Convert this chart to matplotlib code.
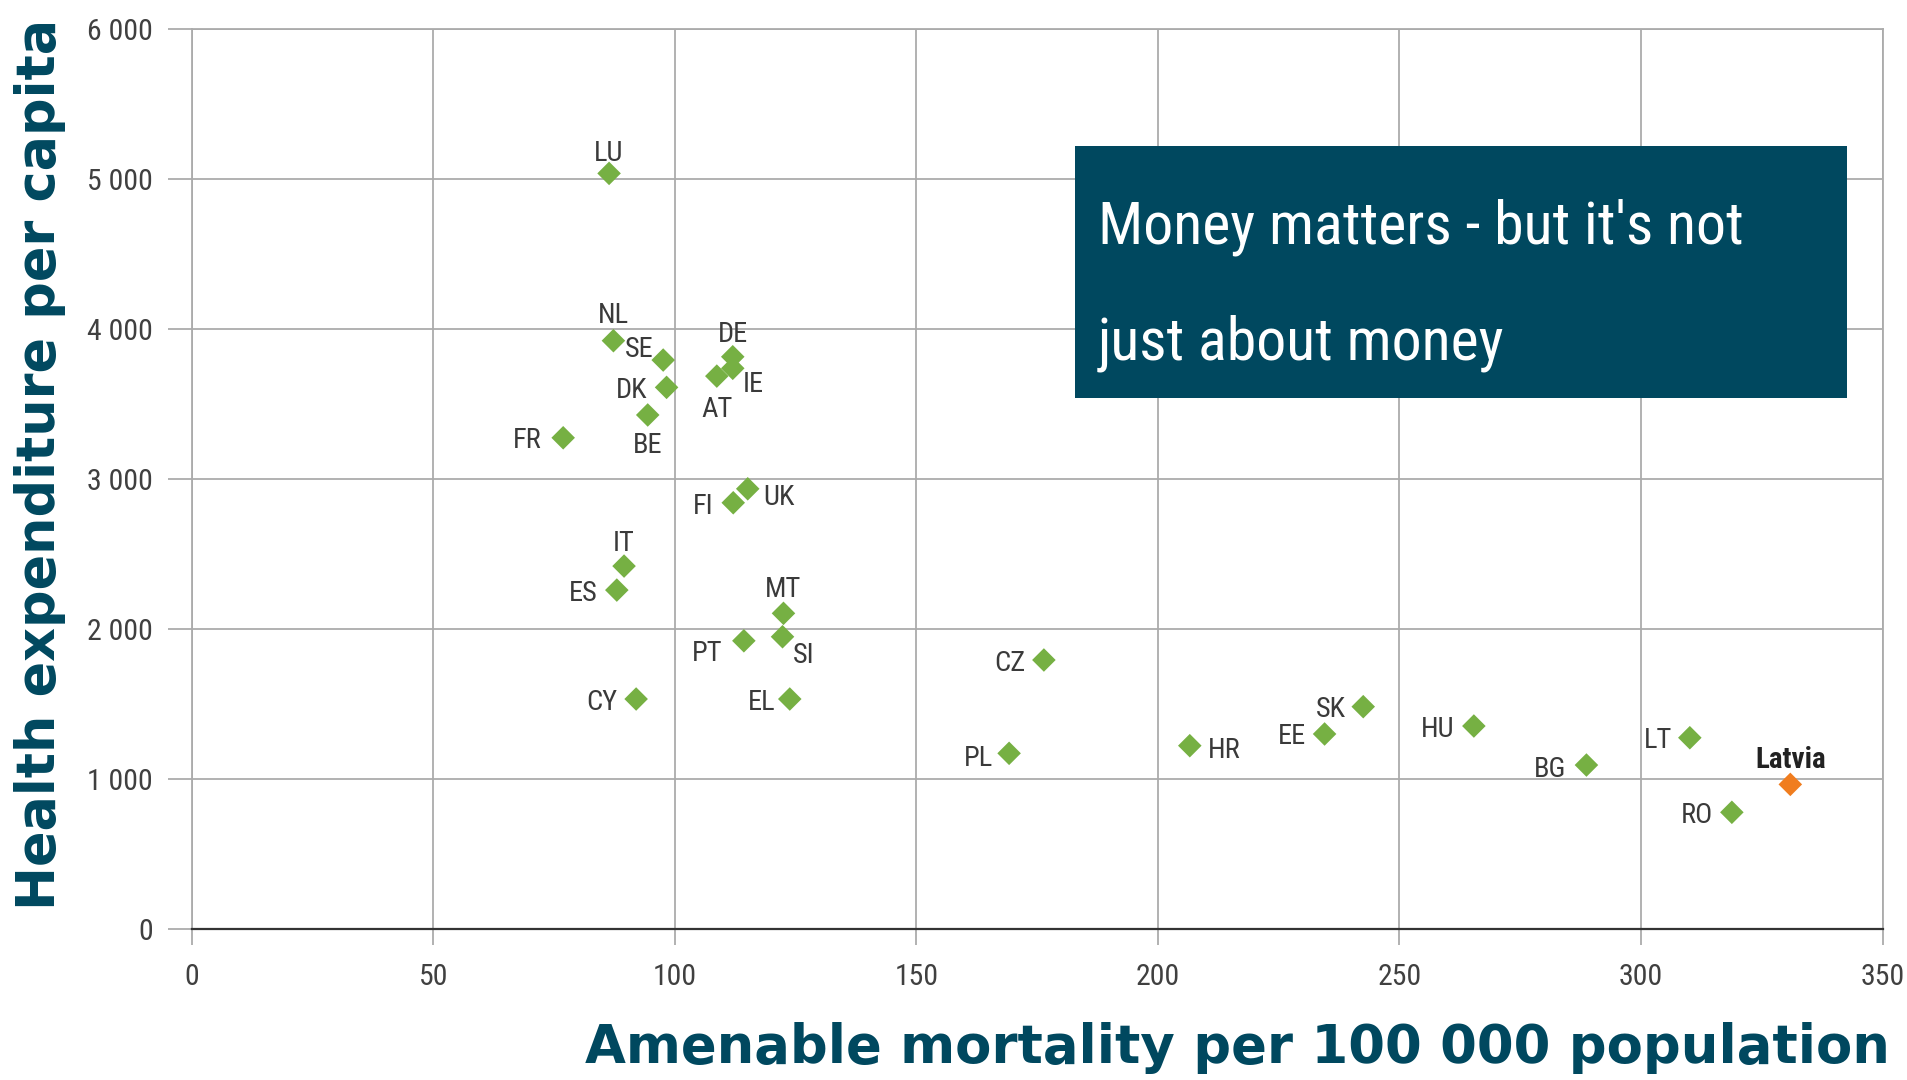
import matplotlib
matplotlib.use('Agg')
import matplotlib.pyplot as plt
from matplotlib.patches import Rectangle

# data
countries = ['LU', 'NL', 'SE', 'DE', 'IE', 'AT', 'DK', 'BE', 'FR', 'UK', 'FI', 'IT', 'ES', 'MT',
             'SI', 'PT', 'CY', 'EL', 'CZ', 'PL', 'HR', 'SK', 'EE', 'HU', 'BG', 'LT', 'RO', 'Latvia']
mortality = [86.4, 87.3, 97.6, 112.0, 112.0, 108.7, 98.3, 94.4, 76.9, 115.1, 112.1, 89.5, 88.0, 122.5,
             122.3, 114.3, 92.0, 123.8, 176.4, 169.2, 206.6, 242.5, 234.5, 265.4, 288.7, 310.1, 318.8, 330.9]
expenditure = [5038, 3923, 3794, 3816, 3739, 3687, 3612, 3428, 3276, 2936, 2843, 2421, 2261, 2106,
               1950, 1923, 1535, 1535, 1795, 1173, 1224, 1484, 1302, 1355, 1095, 1277, 780, 966]
highlight = 'Latvia'

x_ticks = [0, 50, 100, 150, 200, 250, 300, 350]
y_ticks = [0, 1000, 2000, 3000, 4000, 5000, 6000]
y_tick_labels = ['0', '1 000', '2 000', '3 000', '4 000', '5 000', '6 000']

x_title = 'Amenable mortality per 100 000 population'
y_title = 'Health expenditure per capita'
box_lines = ["Money matters - but it's not", 'just about money']

# label placement next to each marker (pixels, image y down)
label_ha = ['center', 'center', 'right', 'center', 'left', 'center', 'right', 'center', 'right', 'left',
            'right', 'center', 'right', 'center', 'left', 'right', 'right', 'right', 'right', 'right',
            'left', 'right', 'right', 'right', 'right', 'right', 'right', 'center']
label_dx = [0, 0, -10, 0, 10, 0, -19, 0, -22, 16, -20, 0, -19, 0, 10, -21, -19, -14, -18, -16,
            18, -17, -18, -19, -20, -18, -19, 0]
label_dy = [-23, -28, -14, -25, 13, 30, 0, 28, 0, 6, 1, -26, 0, -27, 16, 10, 0, 0, 0, 2,
            2, 0, 0, 0, 1, 0, 0, -27]

TEAL = '#00485f'
GREEN = '#76b043'
ORANGE = '#f07d1f'
GRID = '#ababab'

plt.rcParams['font.family'] = ['Roboto Condensed', 'Liberation Sans']
plt.rcParams['font.stretch'] = 'condensed'

fig = plt.figure(figsize=(19.07, 10.8), dpi=100)
ax = fig.add_axes([0.1005, 0.1395, 0.8867, 0.8336])
ax.set_xlim(0, 350)
ax.set_ylim(0, 6000)
ax.set_xticks(x_ticks)
ax.set_yticks(y_ticks)
ax.set_yticklabels(y_tick_labels)

ax.grid(True, color=GRID, lw=1.3)
ax.set_axisbelow(True)
for s in ['left', 'right', 'top']:
    ax.spines[s].set_color(GRID)
    ax.spines[s].set_linewidth(1.3)
ax.spines['bottom'].set_color('#333333')
ax.spines['bottom'].set_linewidth(1.6)
ax.tick_params(axis='y', length=17, width=1.3, color=GRID, pad=11, labelsize=21.5, labelcolor='#404040')
ax.tick_params(axis='x', length=11.5, width=1.3, color=GRID, pad=13, labelsize=21.5, labelcolor='#404040')

colors = [ORANGE if c == highlight else GREEN for c in countries]
ax.scatter(mortality, expenditure, marker='D', s=144, c=colors, linewidths=0, zorder=3)

for i, name in enumerate(countries):
    bold = name == highlight
    ax.annotate(name, (mortality[i], expenditure[i]), xytext=(label_dx[i], -label_dy[i]),
                textcoords='offset pixels', ha=label_ha[i], va='center_baseline',
                fontsize=21 if bold else 20.5, color='#222222' if bold else '#3a3a3a',
                fontweight='bold' if bold else 'normal', zorder=4)

# message box
ax.add_patch(Rectangle((182.8, 3541), 159.8, 1679, facecolor=TEAL, edgecolor='none', zorder=5))
t1 = ax.text(187.6, 4574, box_lines[0], color='white', fontsize=40, va='baseline', zorder=6,
             family=['Roboto Condensed', 'DejaVu Sans'], fontstretch='condensed')
t2 = ax.text(187.6, 3801, box_lines[1], color='white', fontsize=40, va='baseline', zorder=6,
             family=['Roboto Condensed', 'DejaVu Sans'], fontstretch='condensed')

# shrink the box text so the first line spans the same width as in the source
fig.canvas.draw()
w = t1.get_window_extent().width
size = 40 * 645 / w
t1.set_fontsize(size)
t2.set_fontsize(size)

fig.text(0.9912, 0.0157, x_title, ha='right', va='baseline', fontsize=38.1, fontweight='bold',
         color=TEAL, family='DejaVu Sans', fontstretch='normal')
fig.text(0.0071, 0.1574, y_title, ha='left', va='bottom', rotation=90, fontsize=37.8,
         fontweight='bold', color=TEAL, family='DejaVu Sans', fontstretch='normal')

fig.savefig('out.png', dpi=100)
